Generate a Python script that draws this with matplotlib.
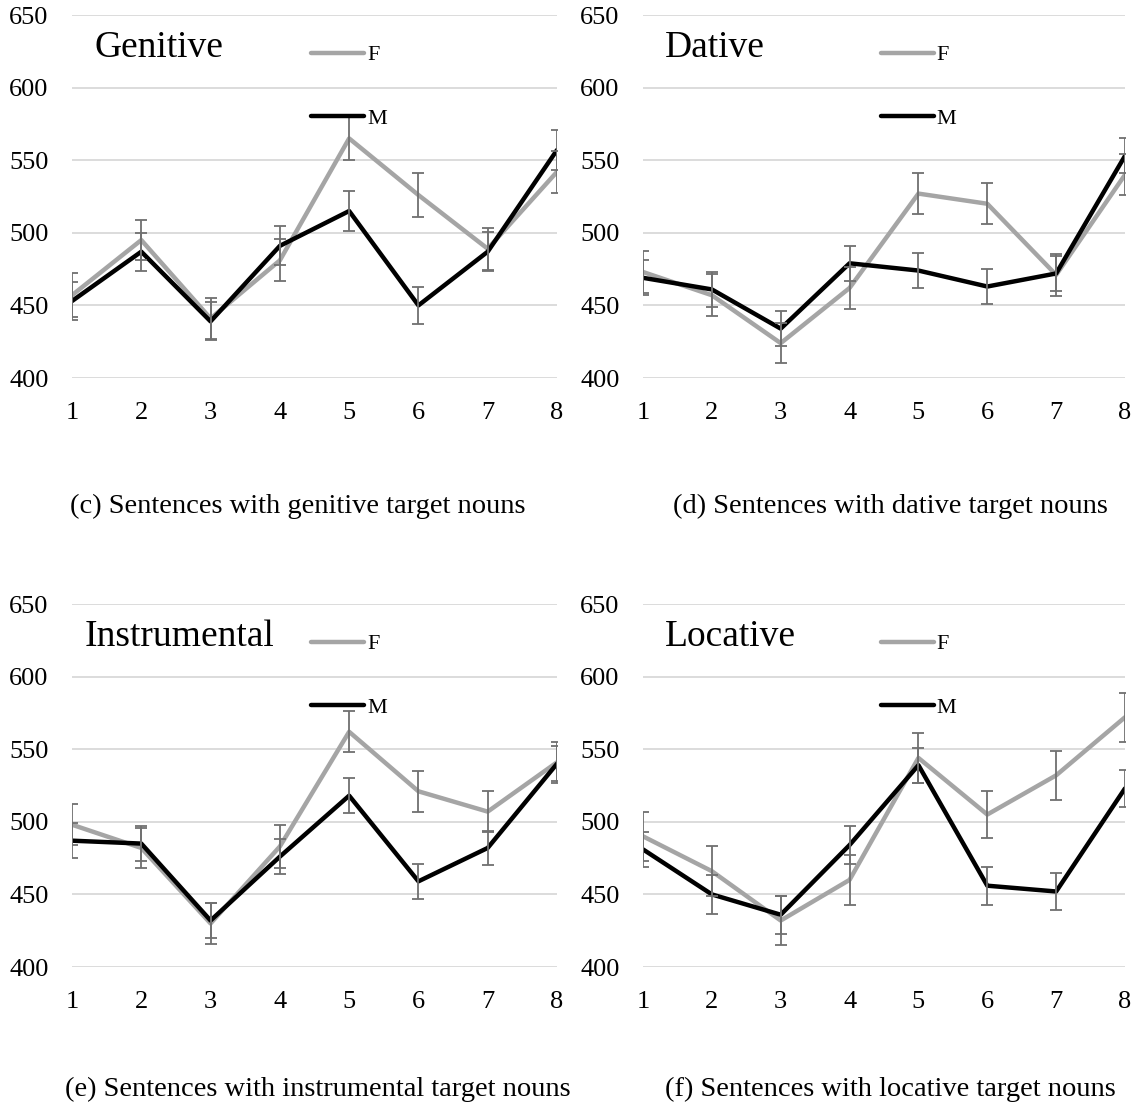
import numpy as np
import matplotlib.pyplot as plt

plt.rcParams['font.family'] = ['Liberation Serif', 'DejaVu Serif']

## Data ##
x = np.arange(1, 9)

gen_f = [457, 495, 441, 481, 565, 526, 489, 542]
gen_f_err = [15, 14, 14, 14.5, 15, 15, 14.5, 14.5]
gen_m = [453, 487, 439, 491, 515, 450, 487, 557]
gen_m_err = [13, 13, 13, 13.5, 13.5, 13, 13.5, 14]

dat_f = [473, 457, 424, 462, 527, 520, 471, 540]
dat_f_err = [14.5, 14.5, 14, 14.5, 14, 14, 14.5, 14]
dat_m = [469, 461, 434, 479, 474, 463, 472, 553]
dat_m_err = [12, 12, 12, 12, 12, 12, 12, 12]

ins_f = [498, 482, 430, 483, 562, 521, 507, 541]
ins_f_err = [14, 14, 14, 15, 14, 14, 14, 14]
ins_m = [487, 485, 432, 476, 518, 459, 482, 540]
ins_m_err = [12, 12, 12, 12, 12, 12, 12, 12]

loc_f = [490, 466, 432, 460, 544, 505, 532, 572]
loc_f_err = [17, 17, 17, 17, 17, 16.5, 17, 17]
loc_m = [481, 450, 436, 484, 539, 456, 452, 523]
loc_m_err = [12, 13.5, 13, 13, 12, 13, 13, 13]

titles = ['Genitive', 'Dative', 'Instrumental', 'Locative']
captions = ['(c) Sentences with genitive target nouns',
            '(d) Sentences with dative target nouns',
            '(e) Sentences with instrumental target nouns',
            '(f) Sentences with locative target nouns']
yticks = [400, 450, 500, 550, 600, 650]

series = [(gen_f, gen_f_err, gen_m, gen_m_err),
          (dat_f, dat_f_err, dat_m, dat_m_err),
          (ins_f, ins_f_err, ins_m, ins_m_err),
          (loc_f, loc_f_err, loc_m, loc_m_err)]

## Layout (pixels) ##
W, H = 1136, 1110
boxes = [(72, 378, 485), (643, 378, 482), (72, 967, 485), (643, 967, 482)]
title_x = [0.047, 0.046, 0.026, 0.046]
cap_x = [298, 890, 318, 890]
cap_y = [506, 506, 1089, 1089]

fig = plt.figure(figsize=(W / 100, H / 100), dpi=100)

for i in range(4):
    left, bottom, width = boxes[i]
    ax = fig.add_axes([left / W, 1 - bottom / H, width / W, 363 / H])
    f, fe, m, me = series[i]

    ax.plot(x, f, color='#A5A5A5', lw=3.2, zorder=2, label='F', solid_capstyle='round')
    ax.plot(x, m, color='black', lw=3.2, zorder=3, label='M', solid_capstyle='round')
    ax.errorbar(x, f, yerr=fe, fmt='none', ecolor='#707070', elinewidth=1.3,
                capsize=4, capthick=1.3, zorder=4)
    ax.errorbar(x, m, yerr=me, fmt='none', ecolor='#707070', elinewidth=1.3,
                capsize=4, capthick=1.3, zorder=4)

    ax.set_xlim(1, 8)
    ax.set_ylim(400, 650)
    ax.set_xticks(x)
    ax.set_yticks(yticks)
    ax.grid(axis='y', color='#D9D9D9', lw=1.3, zorder=0)
    ax.set_axisbelow(True)
    for s in ax.spines.values():
        s.set_visible(False)
    ax.tick_params(axis='both', length=0, labelsize=19)
    ax.tick_params(axis='x', pad=17)
    ax.tick_params(axis='y', pad=17)

    ax.text(title_x[i], 0.884, titles[i], transform=ax.transAxes,
            fontsize=27, va='baseline', ha='left')
    ax.legend(loc='upper left', bbox_to_anchor=(0.493, 0.918), frameon=False,
              fontsize=16, handlelength=2.4, handletextpad=0.12,
              labelspacing=1.95, borderpad=0, borderaxespad=0)

    fig.text(cap_x[i] / W, 1 - cap_y[i] / H, captions[i], fontsize=20.5,
             ha='center', va='center')

fig.savefig('out.png', dpi=100)
